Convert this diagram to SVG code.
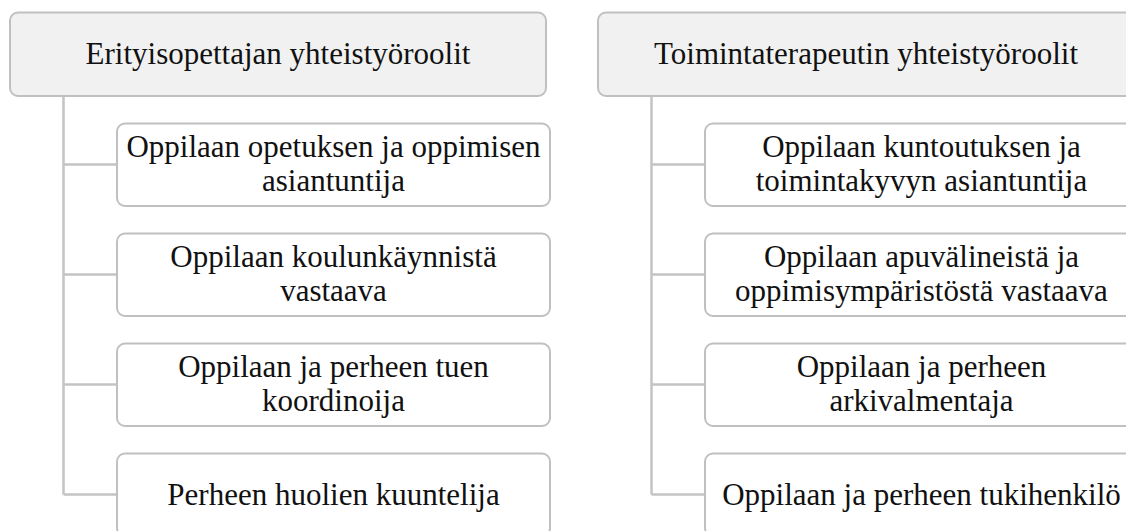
<svg xmlns="http://www.w3.org/2000/svg" width="1126" height="531" viewBox="0 0 1126 531">
  <style>
    .head { fill: #f1f1f1; stroke: #c0c0c0; stroke-width: 2; }
    .item { fill: #ffffff; stroke: #c0c0c0; stroke-width: 2; }
    .wire { fill: none; stroke: #c4c4c4; stroke-width: 2.5; }
    text { font-family: "Liberation Serif", "DejaVu Serif", serif; font-size: 31px; fill: #111111; text-anchor: middle; }
  </style>
  <rect width="1126" height="531" fill="#ffffff"/>

  <!-- tree connectors -->
  <g id="connectors">
    <path class="wire" d="M63.5 96 V494.5 M63.5 164.5 H117 M63.5 274.5 H117 M63.5 384.5 H117 M63.5 494.5 H117"/>
    <path class="wire" d="M651.5 96 V494.5 M651.5 164.5 H705 M651.5 274.5 H705 M651.5 384.5 H705 M651.5 494.5 H705"/>
  </g>

  <!-- left column -->
  <g id="head-erityisopettaja">
    <rect class="head" x="10" y="12.5" width="536" height="83.5" rx="8"/>
    <text x="278" y="64">Erityisopettajan yhteistyöroolit</text>
  </g>
  <g id="e1">
    <rect class="item" x="117" y="123.5" width="433" height="82.5" rx="8"/>
    <text x="333.5" y="157">Oppilaan opetuksen ja oppimisen</text>
    <text x="333.5" y="191">asiantuntija</text>
  </g>
  <g id="e2">
    <rect class="item" x="117" y="233.5" width="433" height="82.5" rx="8"/>
    <text x="333.5" y="267">Oppilaan koulunkäynnistä</text>
    <text x="333.5" y="301">vastaava</text>
  </g>
  <g id="e3">
    <rect class="item" x="117" y="343.5" width="433" height="82.5" rx="8"/>
    <text x="333.5" y="377">Oppilaan ja perheen tuen</text>
    <text x="333.5" y="411">koordinoija</text>
  </g>
  <g id="e4">
    <rect class="item" x="117" y="453.5" width="433" height="82.5" rx="8"/>
    <text x="333.5" y="505">Perheen huolien kuuntelija</text>
  </g>

  <!-- right column -->
  <g id="head-toimintaterapeutti">
    <rect class="head" x="598" y="12.5" width="536" height="83.5" rx="8"/>
    <text x="866" y="64">Toimintaterapeutin yhteistyöroolit</text>
  </g>
  <g id="t1">
    <rect class="item" x="705" y="123.5" width="433" height="82.5" rx="8"/>
    <text x="921.5" y="157">Oppilaan kuntoutuksen ja</text>
    <text x="921.5" y="191">toimintakyvyn asiantuntija</text>
  </g>
  <g id="t2">
    <rect class="item" x="705" y="233.5" width="433" height="82.5" rx="8"/>
    <text x="921.5" y="267">Oppilaan apuvälineistä ja</text>
    <text x="921.5" y="301">oppimisympäristöstä vastaava</text>
  </g>
  <g id="t3">
    <rect class="item" x="705" y="343.5" width="433" height="82.5" rx="8"/>
    <text x="921.5" y="377">Oppilaan ja perheen</text>
    <text x="921.5" y="411">arkivalmentaja</text>
  </g>
  <g id="t4">
    <rect class="item" x="705" y="453.5" width="433" height="82.5" rx="8"/>
    <text x="921.5" y="505">Oppilaan ja perheen tukihenkilö</text>
  </g>
</svg>
